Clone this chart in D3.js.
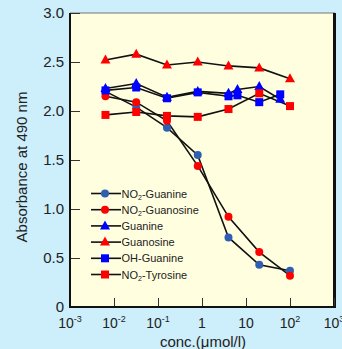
<!DOCTYPE html>
<html>
<head>
<meta charset="utf-8">
<script src="https://cdn.jsdelivr.net/npm/d3@7"></script>
<style>
  body { margin: 0; background: #cdeefb; }
  svg { display: block; font-family: "Liberation Sans", Arial, sans-serif; }
</style>
</head>
<body>
<svg id="wykres"></svg>
<script>
// dane
let stezenia = [0.0064, 0.032, 0.16, 0.8, 4, 20, 100];
let stezeniaG = [0.0064, 0.032, 0.16, 0.8, 4, 6.4, 20, 60];

let no2Guanina = [2.20, 2.04, 1.83, 1.55, 0.71, 0.43, 0.37];
let no2Guanozyna = [2.15, 2.09, 1.90, 1.44, 0.92, 0.56, 0.32];
let guanina = [2.23, 2.28, 2.14, 2.20, 2.18, 2.22, 2.25, 2.12];
let guanozyna = [2.52, 2.58, 2.47, 2.50, 2.46, 2.44, 2.33];
let ohGuanina = [2.21, 2.24, 2.13, 2.19, 2.15, 2.16, 2.09, 2.17];
let no2Tyrozyna = [1.96, 1.99, 1.95, 1.94, 2.02, 2.18, 2.05];

let yTicks = [0, 0.5, 1.0, 1.5, 2.0, 2.5, 3.0];
let xTicks = [-3, -2, -1, 0, 1, 2, 3];

let serie = [
	{ nazwa: ['NO', '2', '-Guanine'], x: stezenia, y: no2Guanina, ksztalt: 'circle', kolor: '#2f5fb3' },
	{ nazwa: ['NO', '2', '-Guanosine'], x: stezenia, y: no2Guanozyna, ksztalt: 'circle', kolor: '#ff0000' },
	{ nazwa: ['Guanine'], x: stezeniaG, y: guanina, ksztalt: 'triangle', kolor: '#0000ff' },
	{ nazwa: ['Guanosine'], x: stezenia, y: guanozyna, ksztalt: 'triangle', kolor: '#ff0000' },
	{ nazwa: ['OH-Guanine'], x: stezeniaG, y: ohGuanina, ksztalt: 'square', kolor: '#0000ff' },
	{ nazwa: ['NO', '2', '-Tyrosine'], x: stezenia, y: no2Tyrozyna, ksztalt: 'square', kolor: '#ff0000' }
];

let W = 342, H = 349;
let lewo = 70, prawo = 334, gora = 13, dol = 307;

let svg = d3.select('#wykres').attr('width', W).attr('height', H);

let x = d3.scaleLog().domain([1e-3, 1e3]).range([lewo, prawo]);
let y = d3.scaleLinear().domain([0, 3]).range([dol, gora]);

// tło obszaru wykresu
svg.append('rect')
	.attr('x', lewo).attr('y', gora)
	.attr('width', prawo - lewo).attr('height', dol - gora)
	.attr('fill', '#ffffe0');

svg.append('line').attr('x1', lewo).attr('x2', prawo + 1).attr('y1', gora).attr('y2', gora)
	.attr('stroke', '#777').attr('stroke-width', 1);
svg.append('line').attr('x1', prawo + 0.5).attr('x2', prawo + 0.5).attr('y1', gora).attr('y2', dol)
	.attr('stroke', '#111').attr('stroke-width', 3);

// oś Y
let yAxis = d3.axisRight(y).tickValues(yTicks).tickSize(10)
	.tickFormat(d => d === 0 ? '0' : d3.format('.1f')(d));
let gy = svg.append('g').attr('transform', `translate(${lewo},0)`).call(yAxis);
gy.select('.domain').remove();
gy.selectAll('.tick line').attr('stroke', '#333').attr('stroke-width', 1);
gy.selectAll('.tick text').attr('x', -6).attr('text-anchor', 'end')
	.attr('font-size', 15).attr('fill', '#222').attr('font-family', null);

// oś X
let xAxis = d3.axisBottom(x).tickValues(xTicks.map(p => Math.pow(10, p))).tickSize(-9).tickFormat('');
let gx = svg.append('g').attr('transform', `translate(0,${dol})`).call(xAxis);
gx.select('.domain').remove();
gx.selectAll('.tick line').attr('stroke', '#333').attr('stroke-width', 1);

let etykiety = svg.append('g').attr('font-size', 14).attr('fill', '#222');
xTicks.forEach(function(p) {
	let t = etykiety.append('text').attr('x', x(Math.pow(10, p))).attr('y', 328).attr('text-anchor', 'middle');
	if (p === 0) { t.text('1'); }
	else if (p === 1) { t.text('10'); }
	else {
		t.append('tspan').text('10');
		t.append('tspan').text(p).attr('font-size', 9).attr('dy', -6);
	}
});

svg.append('line').attr('x1', lewo).attr('x2', lewo).attr('y1', gora).attr('y2', dol + 1)
	.attr('stroke', '#111').attr('stroke-width', 2);
svg.append('line').attr('x1', lewo).attr('x2', prawo + 2).attr('y1', dol).attr('y2', dol)
	.attr('stroke', '#111').attr('stroke-width', 2);

// tytuły osi
svg.append('text').attr('transform', 'translate(27,167) rotate(-90)')
	.attr('text-anchor', 'middle').attr('font-size', 15).attr('fill', '#222')
	.text('Absorbance at 490 nm');
svg.append('text').attr('x', 203).attr('y', 347)
	.attr('text-anchor', 'middle').attr('font-size', 15).attr('fill', '#222')
	.text('conc.(μmol/l)');

function znacznik(g, ksztalt, kolor) {
	if (ksztalt === 'circle') {
		g.append('circle').attr('r', 4).attr('fill', kolor);
	} else if (ksztalt === 'triangle') {
		g.append('path').attr('d', 'M0,-5.5L5,3.5L-5,3.5Z').attr('fill', kolor);
	} else {
		g.append('rect').attr('x', -4).attr('y', -4).attr('width', 8).attr('height', 8).attr('fill', kolor);
	}
}

let line = d3.line()
	.x(d => x(d[0]))
	.y(d => y(d[1]));

serie.forEach(function(s) {
	let punkty = s.x.map((v, i) => [v, s.y[i]]);
	svg.append('path')
		.datum(punkty)
		.attr('d', line)
		.attr('fill', 'none')
		.attr('stroke', '#111')
		.attr('stroke-width', 1.6);
});

serie.forEach(function(s) {
	let punkty = s.x.map((v, i) => [v, s.y[i]]);
	punkty.forEach(function(p) {
		let g = svg.append('g').attr('transform', `translate(${x(p[0])},${y(p[1])})`);
		znacznik(g, s.ksztalt, s.kolor);
	});
});

// legenda
let legenda = svg.append('g').attr('font-size', 11).attr('fill', '#222');
serie.forEach(function(s, i) {
	let ly = 193.5 + i * 16.2;
	legenda.append('line').attr('x1', 91).attr('x2', 121).attr('y1', ly).attr('y2', ly)
		.attr('stroke', '#111').attr('stroke-width', 1.6);
	let g = legenda.append('g').attr('transform', `translate(105,${ly})`);
	znacznik(g, s.ksztalt, s.kolor);
	let t = legenda.append('text').attr('x', 121.5).attr('y', ly + 4);
	if (s.nazwa.length === 3) {
		t.append('tspan').text(s.nazwa[0]);
		t.append('tspan').text(s.nazwa[1]).attr('font-size', 7).attr('dy', 2);
		t.append('tspan').text(s.nazwa[2]).attr('dy', -2);
	} else {
		t.text(s.nazwa[0]);
	}
});
</script>
</body>
</html>
